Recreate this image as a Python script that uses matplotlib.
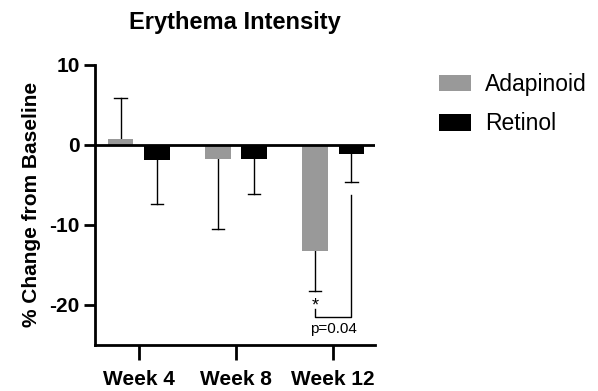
import matplotlib.pyplot as plt
import numpy as np

plt.rcParams['font.family'] = ['Liberation Sans', 'DejaVu Sans']
plt.rcParams['axes.unicode_minus'] = False

weeks = ["Week 4", "Week 8", "Week 12"]
adapinoid = [0.7, -1.8, -13.3]
adapinoid_err = [5.2, 8.7, 5.0]
retinol = [-1.9, -1.8, -1.2]
retinol_err = [5.5, 4.4, 3.4]

fig = plt.figure(figsize=(5.98, 3.91), dpi=100)
ax = fig.add_axes([0.159, 0.118, 0.468, 0.716])

x = np.arange(len(weeks))
off = 0.186
w = 0.26

ax.bar(x - off, adapinoid, w, color='#999999', zorder=2, label='Adapinoid')
ax.bar(x + off, retinol, w, color='black', zorder=2, label='Retinol')

# one-sided error bars pointing away from zero
for xs, vals, errs in [(x - off, adapinoid, adapinoid_err), (x + off, retinol, retinol_err)]:
    for xi, v, e in zip(xs, vals, errs):
        end = v + e if v >= 0 else v - e
        ax.plot([xi, xi], [v, end], color='black', lw=1, zorder=1)
        ax.plot([xi - w / 4, xi + w / 4], [end, end], color='black', lw=1, zorder=1)

ax.axhline(0, color='black', lw=2, zorder=3)

# significance bracket week 12
xa = x[2] - off
xr = x[2] + off
ax.plot([xa, xa, xr, xr], [-20.5, -21.5, -21.5, -6.3], color='black', lw=1)
ax.text(xa, -21.2, '*', ha='center', va='bottom', fontsize=13)
ax.text((xa + xr) / 2, -22.2, 'p=0.04', ha='center', va='top', fontsize=11)

ax.set_xlim(-0.45, 2.43)
ax.set_ylim(-25, 10)
ax.set_yticks([10, 0, -10, -20])
ax.set_xticks(x)
ax.set_xticklabels(weeks, fontsize=15, fontweight='bold')
for t in ax.get_yticklabels():
    t.set_fontsize(15)
    t.set_fontweight('bold')
ax.tick_params(axis='y', width=2, length=8, pad=3)
ax.tick_params(axis='x', width=2, length=11, pad=7)
ax.set_ylabel('% Change from Baseline', fontsize=15, fontweight='bold', labelpad=6)
ax.set_title('Erythema Intensity', fontsize=17, fontweight='bold', pad=26)

for s in ['top', 'right']:
    ax.spines[s].set_visible(False)
ax.spines['left'].set_linewidth(2)
ax.spines['bottom'].set_linewidth(2)

ax.legend(loc='upper left', bbox_to_anchor=(1.155, 1.045), frameon=False,
          fontsize=16.5, handlelength=1.4, handleheight=0.75, handletextpad=0.6,
          labelspacing=0.72)

fig.savefig('out.png', dpi=100)
